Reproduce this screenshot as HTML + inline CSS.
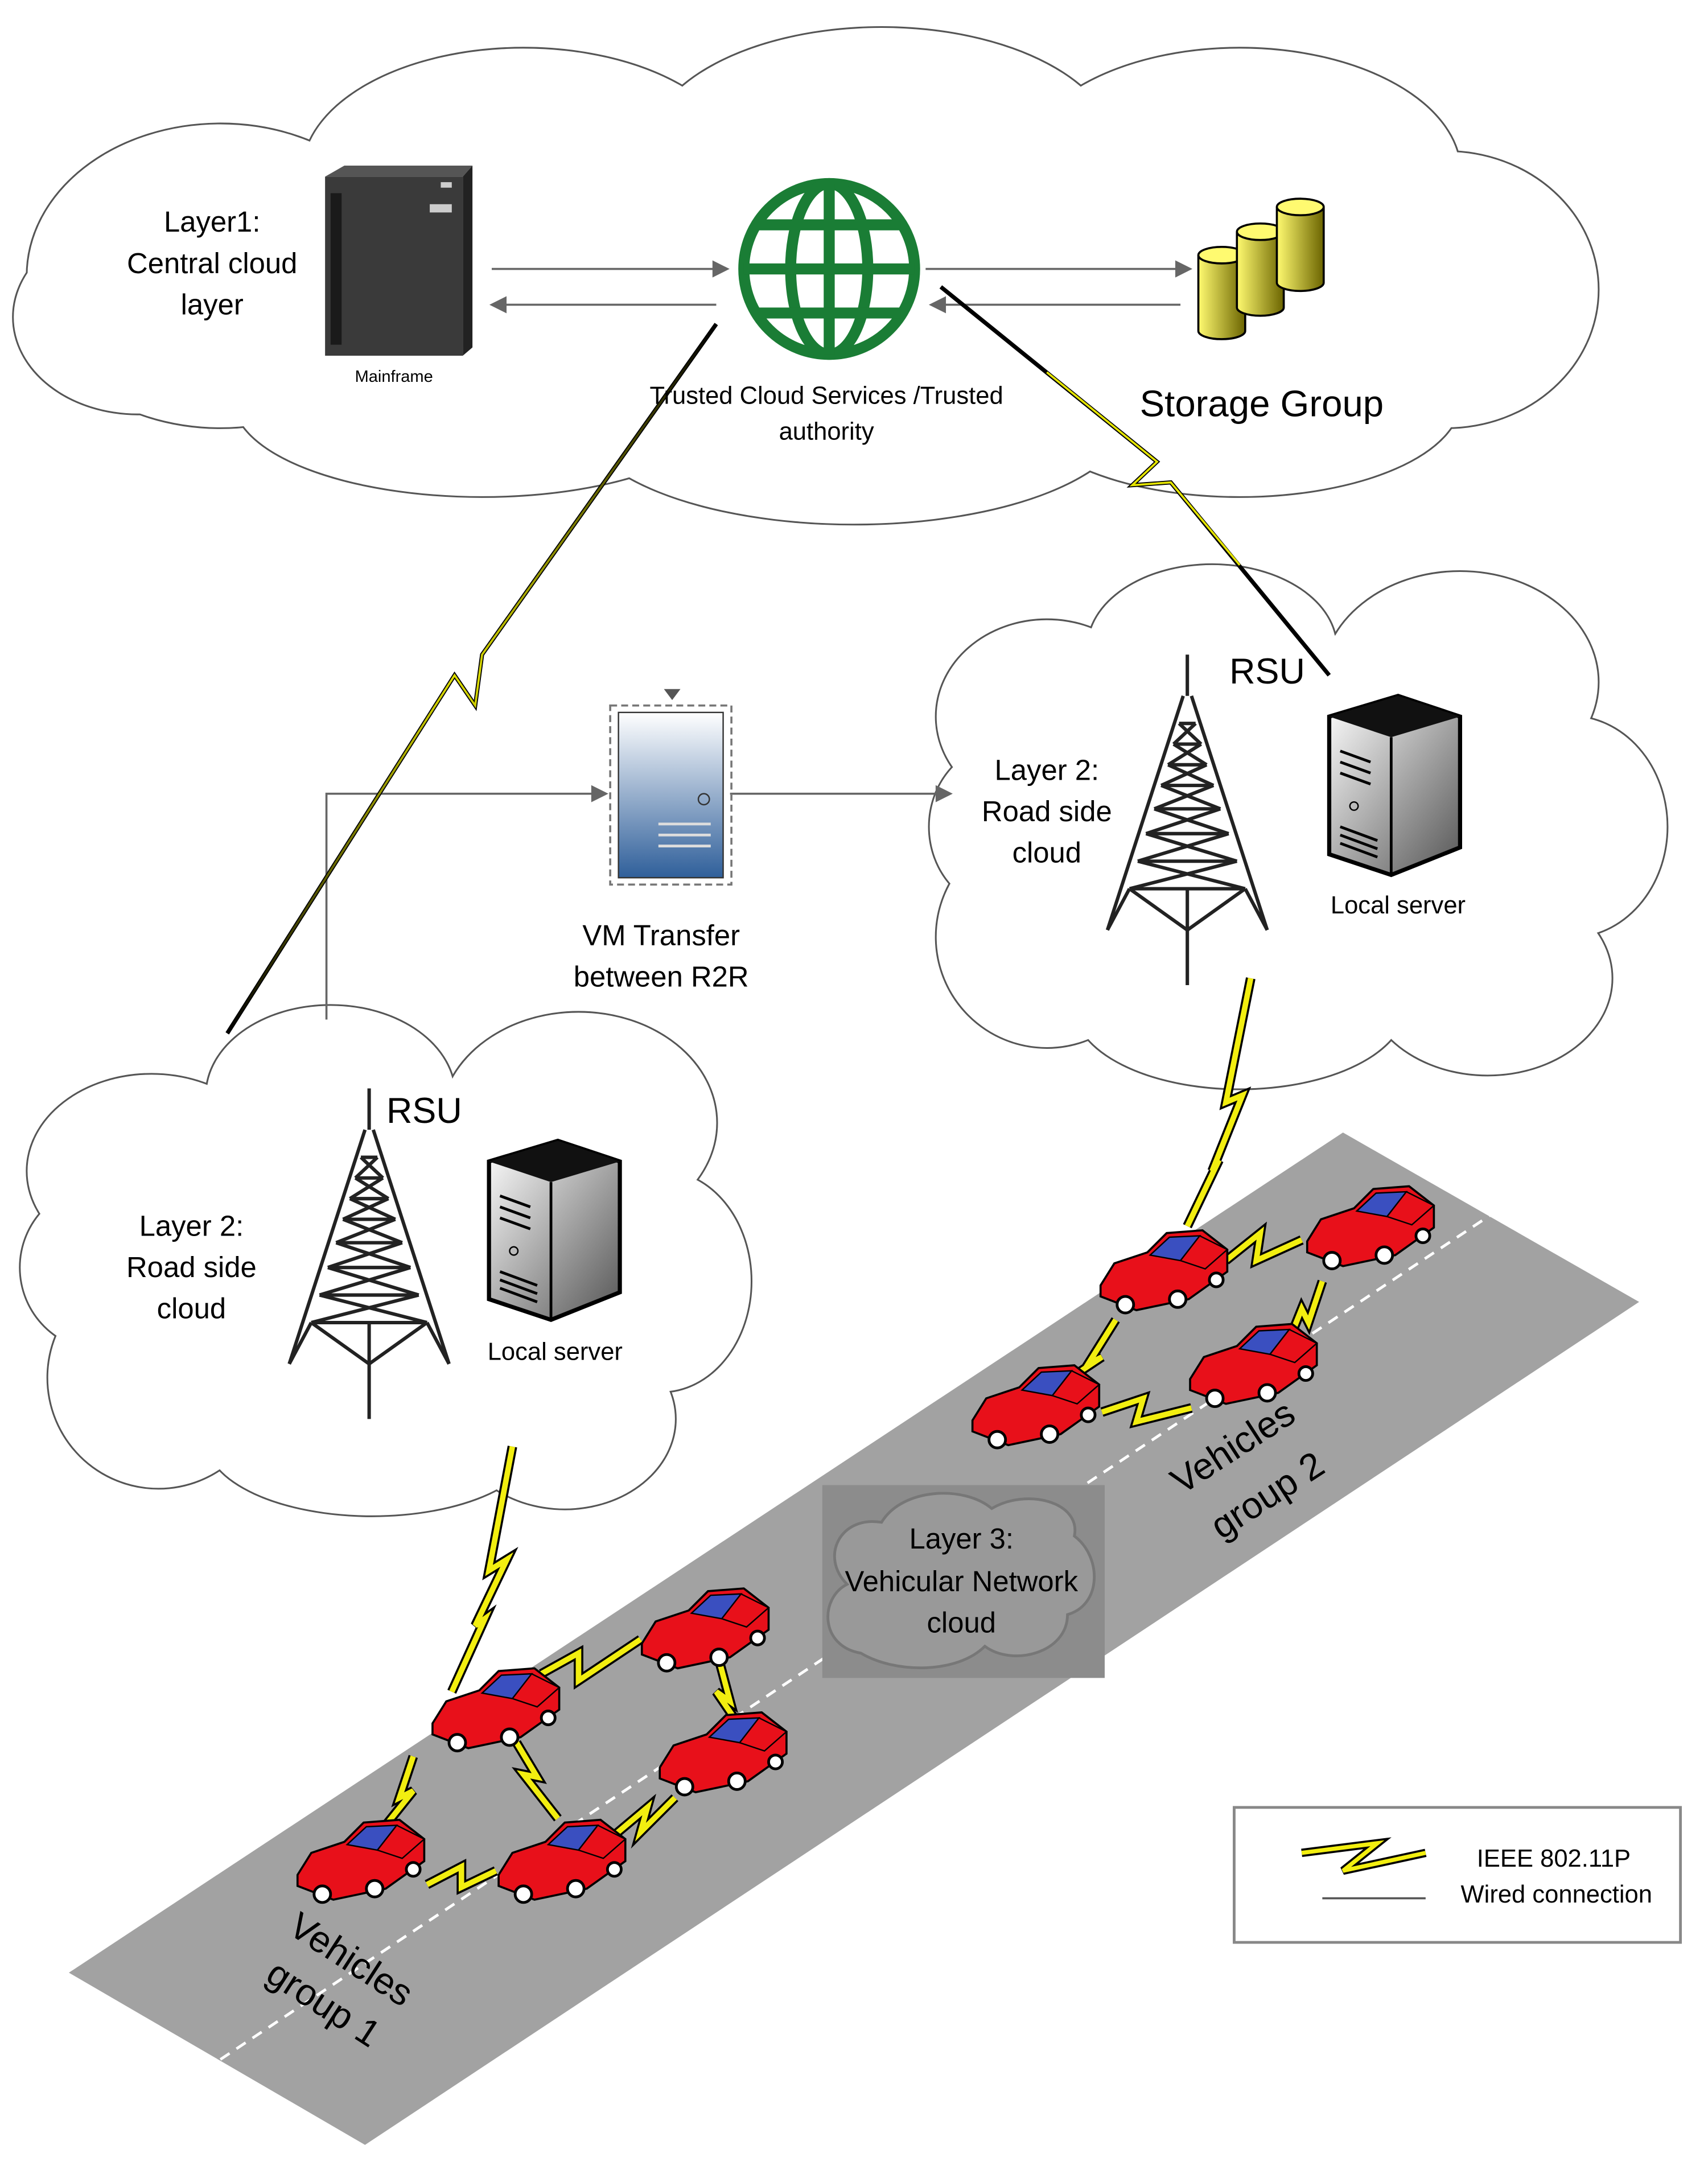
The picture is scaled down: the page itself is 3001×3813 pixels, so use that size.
<!DOCTYPE html>
<html><head><meta charset="utf-8"><style>html,body{margin:0;padding:0;background:#fff}svg{display:block}</style></head>
<body>
<svg width="3001" height="3813" viewBox="0 0 1240 1575" xmlns="http://www.w3.org/2000/svg" font-family="Liberation Sans, sans-serif">
<defs>
<linearGradient id="vm" x1="0" y1="0" x2="0" y2="1"><stop offset="0" stop-color="#fff"/><stop offset="1" stop-color="#2f5f9a"/></linearGradient>
<linearGradient id="srv" x1="0" y1="0" x2="1" y2="1"><stop offset="0" stop-color="#fff"/><stop offset="1" stop-color="#555"/></linearGradient>
<linearGradient id="cyl" x1="0" y1="0" x2="1" y2="0"><stop offset="0" stop-color="#fffa70"/><stop offset="1" stop-color="#6b6400"/></linearGradient>
<linearGradient id="ln1" x1="0" y1="0" x2="0" y2="1"><stop offset="0" stop-color="#000"/><stop offset="0.5" stop-color="#dddd00"/><stop offset="1" stop-color="#000"/></linearGradient>
<g id="car">
<polygon points="-46,8 -36,-8 -12,-16 2,-30 28,-32 46,-18 46,-2 18,18 -20,26 -46,16" fill="#e8101a" stroke="#000" stroke-width="1.5"/>
<polygon points="-10,-14 4,-27 26,-28 12,-10" fill="#3a4fc0" stroke="#000" stroke-width="1"/>
<polygon points="12,-10 26,-28 46,-18 30,-4" fill="#e8101a" stroke="#000" stroke-width="1"/>
<circle cx="-28" cy="22" r="6" fill="#fff" stroke="#000" stroke-width="2"/>
<circle cx="10" cy="18" r="6" fill="#fff" stroke="#000" stroke-width="2"/>
<circle cx="38" cy="4" r="5" fill="#fff" stroke="#000" stroke-width="2"/>
</g>
<g id="tower" fill="none" stroke="#222" stroke-width="2.5">
<line x1="0" y1="0" x2="0" y2="30"/>
<line x1="-3" y1="30" x2="-58" y2="200"/><line x1="3" y1="30" x2="58" y2="200"/>
<line x1="0" y1="170" x2="0" y2="240"/>
<path d="M-6,50 H6 M-10,65 H10 M-14,80 H14 M-19,95 H19 M-24,112 H24 M-30,130 H30 M-36,150 H36 M-42,170 H42"/>
<path d="M-6,50 L10,65 M6,50 L-10,65 M-10,65 L14,80 M10,65 L-14,80 M-14,80 L19,95 M14,80 L-19,95 M-19,95 L24,112 M19,95 L-24,112 M-24,112 L30,130 M24,112 L-30,130 M-30,130 L36,150 M30,130 L-36,150 M-36,150 L42,170 M36,150 L-42,170"/>
<path d="M-42,170 L-58,200 M42,170 L58,200 M-42,170 L0,200 L42,170"/>
</g>
<g id="server">
<polygon points="0,15 50,0 95,15 95,110 45,130 0,115" fill="url(#srv)" stroke="#000" stroke-width="3"/>
<polygon points="0,15 50,0 95,15 45,30" fill="#111"/>
<line x1="45" y1="30" x2="45" y2="130" stroke="#000" stroke-width="2"/>
<path d="M8,40 L30,48 M8,48 L30,56 M8,56 L30,64 M8,95 L35,105 M8,101 L35,111 M8,107 L35,117" stroke="#000" stroke-width="2"/>
<circle cx="18" cy="80" r="3" fill="none" stroke="#000"/>
</g>
</defs>
<rect width="1240" height="1575" fill="#fff"/>
<g stroke="#555" stroke-width="2.5" fill="#fff">
<g id="c1"><ellipse cx="160" cy="200" rx="140" ry="110"/><ellipse cx="380" cy="125" rx="160" ry="90"/><ellipse cx="640" cy="110" rx="170" ry="90"/><ellipse cx="900" cy="125" rx="160" ry="90"/><ellipse cx="1050" cy="210" rx="110" ry="100"/><ellipse cx="900" cy="290" rx="160" ry="70"/><ellipse cx="620" cy="300" rx="200" ry="80"/><ellipse cx="350" cy="290" rx="180" ry="70"/><ellipse cx="100" cy="230" rx="90" ry="70"/></g>
<g id="c2"><ellipse cx="760" cy="520" rx="80" ry="70"/><ellipse cx="880" cy="470" rx="90" ry="60"/><ellipse cx="1060" cy="495" rx="100" ry="80"/><ellipse cx="1140" cy="600" rx="70" ry="80"/><ellipse cx="1080" cy="710" rx="90" ry="70"/><ellipse cx="900" cy="730" rx="120" ry="60"/><ellipse cx="760" cy="680" rx="80" ry="80"/><ellipse cx="730" cy="600" rx="55" ry="60"/></g>
<g id="c3"><ellipse cx="110" cy="850" rx="90" ry="70"/><ellipse cx="240" cy="795" rx="90" ry="65"/><ellipse cx="420" cy="815" rx="100" ry="80"/><ellipse cx="480" cy="930" rx="65" ry="80"/><ellipse cx="410" cy="1030" rx="80" ry="65"/><ellipse cx="270" cy="1045" rx="120" ry="55"/><ellipse cx="115" cy="1000" rx="80" ry="80"/><ellipse cx="75" cy="920" rx="60" ry="60"/></g>
</g>
<g stroke="none" fill="#fff">
<use href="#c1"/><use href="#c2"/><use href="#c3"/>
<ellipse cx="600" cy="200" rx="450" ry="120"/><ellipse cx="940" cy="600" rx="230" ry="140"/><ellipse cx="280" cy="920" rx="230" ry="140"/>
</g>
<polygon points="50,1432 975,822 1190,945 265,1557" fill="#a2a2a2"/>
<line x1="160" y1="1495" x2="1085" y2="880" stroke="#fff" stroke-width="2" stroke-dasharray="8,6"/>
<rect x="597" y="1078" width="205" height="140" fill="#8c8c8c"/>
<path d="M625,1200 C595,1195 595,1160 615,1150 C595,1130 610,1100 640,1105 C655,1080 700,1078 720,1095 C745,1080 785,1090 780,1115 C800,1130 800,1165 775,1172 C775,1200 735,1210 715,1195 C695,1215 650,1215 625,1200 Z" fill="#999" stroke="#777" stroke-width="2"/>
<rect x="236" y="128" width="100" height="130" fill="#3a3a3a"/>
<polygon points="236,128 250,120 343,120 336,128" fill="#555"/>
<polygon points="336,128 343,120 343,252 336,258" fill="#222"/>
<rect x="240" y="140" width="8" height="110" fill="#1a1a1a"/>
<rect x="312" y="148" width="16" height="6" fill="#ccc"/>
<rect x="320" y="132" width="8" height="4" fill="#ccc"/>
<text x="286" y="277" font-size="12" text-anchor="middle">Mainframe</text>
<g fill="none" stroke="#1a7d35" stroke-width="8">
<circle cx="602" cy="195" r="62"/>
<ellipse cx="602" cy="195" rx="28" ry="62"/>
<line x1="602" y1="133" x2="602" y2="257"/>
<line x1="540" y1="195" x2="664" y2="195"/>
<path d="M550,163 H654 M550,227 H654"/>
</g>
<g stroke="#000" stroke-width="1.5">
<path d="M870,185 v55 a17,6 0 0 0 34,0 v-55" fill="url(#cyl)"/><ellipse cx="887" cy="185" rx="17" ry="6" fill="#fffa70"/>
<path d="M898,168 v55 a17,6 0 0 0 34,0 v-55" fill="url(#cyl)"/><ellipse cx="915" cy="168" rx="17" ry="6" fill="#fffa70"/>
<path d="M927,150 v55 a17,6 0 0 0 34,0 v-55" fill="url(#cyl)"/><ellipse cx="944" cy="150" rx="17" ry="6" fill="#fffa70"/>
</g>
<g stroke="#666" stroke-width="1.5" fill="#666">
<line x1="357" y1="195" x2="520" y2="195"/><polygon points="528,195 518,190 518,200"/>
<line x1="520" y1="221" x2="366" y2="221"/><polygon points="357,221 367,216 367,226"/>
<line x1="672" y1="195" x2="856" y2="195"/><polygon points="864,195 854,190 854,200"/>
<line x1="857" y1="221" x2="685" y2="221"/><polygon points="676,221 686,216 686,226"/>
<polyline points="237,740 237,576 432,576" fill="none"/><polygon points="440,576 430,571 430,581"/>
<line x1="530" y1="576" x2="682" y2="576"/><polygon points="690,576 680,571 680,581"/>
</g>
<g fill="none" stroke-linejoin="miter">
<polyline points="520,235 350,475 345,512 330,490 165,750" stroke="#000" stroke-width="3"/>
<polyline points="520,235 350,475 345,512 330,490 165,750" stroke="url(#ln1)" stroke-width="1.5"/>
<polyline points="683,208 840,335 822,352 850,350 965,490" stroke="#000" stroke-width="3"/>
<polyline points="760,270 840,335 822,352 850,350 900,410" stroke="#e5e500" stroke-width="1.5"/>
</g>
<rect x="443" y="512" width="88" height="130" fill="none" stroke="#777" stroke-width="1.5" stroke-dasharray="5,3"/>
<rect x="449" y="517" width="76" height="120" fill="url(#vm)" stroke="#333"/>
<circle cx="511" cy="580" r="4" fill="none" stroke="#333"/>
<path d="M478,598 H516 M478,606 H516 M478,614 H516" stroke="#ddd" stroke-width="2"/>
<polygon points="482,500 494,500 488,508" fill="#555"/>
<use href="#tower" x="862" y="475"/>
<use href="#tower" x="268" y="790"/>
<use href="#server" x="965" y="505"/>
<use href="#server" x="355" y="828"/>
<g fill="none" stroke-linejoin="miter">
<g id="bolts">
<polyline points="908,710 890,800 902,795 880,850 885,842 862,890"/>
<polyline points="372,1050 355,1140 368,1132 345,1180 352,1175 328,1228"/>
<polyline points="890,915 915,895 912,915 945,900"/>
<polyline points="960,930 950,960 945,950 935,975"/>
<polyline points="810,958 790,990 800,985 770,1005"/>
<polyline points="800,1025 830,1015 825,1032 865,1022"/>
<polyline points="393,1215 420,1200 420,1220 465,1190"/>
<polyline points="522,1205 530,1235 520,1228 535,1250"/>
<polyline points="300,1275 290,1305 300,1300 280,1325"/>
<polyline points="375,1265 390,1290 380,1288 405,1320"/>
<polyline points="310,1368 335,1355 335,1370 360,1358"/>
<polyline points="445,1333 470,1312 465,1330 490,1305"/>
</g>
</g>
<use href="#bolts" stroke="#000" stroke-width="7" fill="none"/>
<use href="#bolts" stroke="#f2ee10" stroke-width="4" fill="none"/>
<use href="#car" x="845" y="925"/>
<use href="#car" x="995" y="893"/>
<use href="#car" x="910" y="993"/>
<use href="#car" x="752" y="1023"/>
<use href="#car" x="360" y="1243"/>
<use href="#car" x="512" y="1185"/>
<use href="#car" x="525" y="1275"/>
<use href="#car" x="408" y="1353"/>
<use href="#car" x="262" y="1353"/>
<rect x="896" y="1312" width="324" height="98" fill="#fff" stroke="#888" stroke-width="2"/>
<polyline points="945,1345 1000,1338 975,1358 1035,1345" fill="none" stroke="#000" stroke-width="6"/>
<polyline points="945,1345 1000,1338 975,1358 1035,1345" fill="none" stroke="#f2ee10" stroke-width="3"/>
<line x1="960" y1="1378" x2="1035" y2="1378" stroke="#555" stroke-width="1.5"/>
<text x="1128" y="1355" font-size="18" text-anchor="middle">IEEE 802.11P</text>
<text x="1130" y="1381" font-size="18" text-anchor="middle">Wired connection</text>
<g font-size="21" text-anchor="middle" fill="#000">
<text x="154" y="168">Layer1:</text><text x="154" y="198">Central cloud</text><text x="154" y="228">layer</text>
<text x="600" y="293" font-size="18">Trusted Cloud Services /Trusted</text><text x="600" y="319" font-size="18">authority</text>
<text x="916" y="302" font-size="27">Storage Group</text>
<text x="920" y="496" font-size="26">RSU</text>
<text x="760" y="566">Layer 2:</text><text x="760" y="596">Road side</text><text x="760" y="626">cloud</text>
<text x="1015" y="663" font-size="18">Local server</text>
<text x="480" y="686">VM Transfer</text><text x="480" y="716">between R2R</text>
<text x="308" y="815" font-size="26">RSU</text>
<text x="139" y="897">Layer 2:</text><text x="139" y="927">Road side</text><text x="139" y="957">cloud</text>
<text x="403" y="987" font-size="18">Local server</text>
<text x="698" y="1124">Layer 3:</text><text x="698" y="1155">Vehicular Network</text><text x="698" y="1185">cloud</text>
<text font-size="27" transform="translate(900,1058) rotate(-33)">Vehicles</text>
<text font-size="27" transform="translate(925,1093) rotate(-33)">group 2</text>
<text font-size="27" transform="translate(250,1430) rotate(33)">Vehicles</text>
<text font-size="27" transform="translate(230,1462) rotate(33)">group 1</text>
</g>
</svg>
</body></html>
